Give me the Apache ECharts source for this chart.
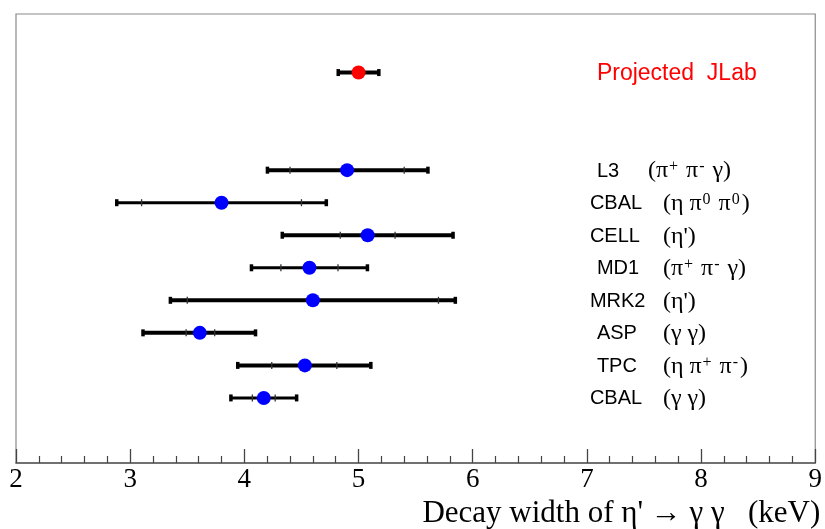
<!DOCTYPE html>
<html>
<head>
<meta charset="utf-8">
<script src="https://cdn.jsdelivr.net/npm/echarts@6/dist/echarts.min.js"></script>
<style>
html,body{margin:0;padding:0;background:#fff;}
#chart{width:825px;height:529px;}
</style>
</head>
<body>
<div id="chart"></div>
<script>
// ---- data ----
var experiments = ['Projected  JLab', 'L3', 'CBAL', 'CELL', 'MD1', 'MRK2', 'ASP', 'TPC', 'CBAL'];
var channels = ['', '(π{+} π{-} γ)', '(η π{0} π{0})', "(η')", '(π{+} π{-} γ)', "(η')", '(γ γ)', '(η π{+} π{-})', '(γ γ)'];
var rowPos = [11, 8, 7, 6, 5, 4, 3, 2, 1];
var widths = [5.00, 4.90, 3.80, 5.08, 4.57, 4.60, 3.61, 4.53, 4.17];
var totalLow = [4.82, 4.20, 2.88, 4.33, 4.06, 3.35, 3.11, 3.94, 3.88];
var totalHigh = [5.18, 5.61, 4.72, 5.83, 5.08, 5.85, 4.10, 5.11, 4.46];
var statLow = [null, 4.40, 3.10, 4.84, 4.32, 3.50, 3.49, 4.24, 4.07];
var statHigh = [null, 5.40, 4.50, 5.32, 4.82, 5.70, 3.74, 4.81, 4.27];
var xTicks = [2, 3, 4, 5, 6, 7, 8, 9];

// ---- styles (not data) ----
var thinRows = {2: true, 4: true, 8: true};
var indentRows = {0: true, 1: true, 4: true, 6: true, 7: true};
var labelAnchorX = 7.0;

var errData = rowPos.map(function (r, i) {
  return [r, totalLow[i], totalHigh[i], statLow[i], statHigh[i], i];
});
var pointData = rowPos.map(function (r, i) {
  return {value: [widths[i], r], itemStyle: {color: i === 0 ? '#ff0000' : '#0000ff', opacity: 1}};
});
var labelData = rowPos.map(function (r, i) { return [labelAnchorX, r, i]; });

function toRich(s) {
  // convert {x} markers into superscript rich tokens
  return '{f|' + s.replace(/\{([^}]*)\}/g, function (m, g) { return '}{sup|' + g + '}{f|'; }) + '}';
}

var chart = echarts.init(document.getElementById('chart'), null, {renderer: 'canvas'});
chart.setOption({
  animation: false,
  backgroundColor: '#ffffff',
  grid: {left: 16, right: 5, top: 14, bottom: 66, show: true, borderColor: '#8a8a8a', borderWidth: 1.2, backgroundColor: 'transparent'},
  xAxis: {
    type: 'value', min: xTicks[0], max: xTicks[xTicks.length - 1], interval: 1,
    axisLine: {show: true, onZero: false, lineStyle: {color: '#555', width: 1.5}},
    axisTick: {show: true, inside: true, length: 14, lineStyle: {color: '#444', width: 1.3}},
    minorTick: {show: true, splitNumber: 5, length: 7, lineStyle: {color: '#444', width: 1.2}},
    splitLine: {show: false},
    axisLabel: {color: '#000', fontFamily: 'Liberation Serif', fontSize: 27, margin: 3},
    name: "Decay width of η' → γ γ   (keV)",
    nameLocation: 'end', nameGap: 5,
    nameTextStyle: {color: '#000', fontFamily: 'Liberation Serif', fontSize: 31, align: 'right', verticalAlign: 'top', padding: [35, 0, 0, 0]}
  },
  yAxis: {type: 'value', min: -1, max: 12.8, show: false, splitLine: {show: false}},
  series: [
    {
      type: 'custom',
      data: errData,
      z: 2,
      renderItem: function (params, api) {
        var r = api.value(0);
        var idx = api.value(5);
        var p1 = api.coord([api.value(1), r]);
        var p2 = api.coord([api.value(2), r]);
        var lw = thinRows[idx] ? 3 : 4;
        var children = [
          {type: 'line', shape: {x1: p1[0], y1: p1[1], x2: p2[0], y2: p2[1]}, style: {stroke: '#000', lineWidth: lw}},
          {type: 'rect', shape: {x: p1[0] - 1.5, y: p1[1] - 3.5, width: 3.5, height: 7}, style: {fill: '#000'}},
          {type: 'rect', shape: {x: p2[0] - 2, y: p2[1] - 3.5, width: 3.5, height: 7}, style: {fill: '#000'}}
        ];
        var sl = api.value(3), sh = api.value(4);
        [sl, sh].forEach(function (v) {
          if (v != null && !isNaN(v)) {
            var p = api.coord([v, r]);
            children.push({type: 'line', shape: {x1: p[0], y1: p[1] - 3.5, x2: p[0], y2: p[1] + 3.5}, style: {stroke: '#333', lineWidth: 1.3}});
          }
        });
        return {type: 'group', children: children};
      }
    },
    {
      type: 'scatter',
      data: pointData,
      symbol: 'circle',
      symbolSize: 14,
      itemStyle: {opacity: 1},
      z: 3
    },
    {
      type: 'custom',
      data: labelData,
      z: 4,
      renderItem: function (params, api) {
        var i = api.value(2);
        var p = api.coord([api.value(0), api.value(1)]);
        var x0 = p[0] + 3 + (indentRows[i] ? 7 : 0);
        var fx = p[0] + (i === 1 ? 61 : 76);
        var kids = [{
          type: 'text',
          style: {
            x: x0, y: p[1] + 1, text: experiments[i], verticalAlign: 'middle', align: 'left',
            fill: i === 0 ? '#ff0000' : '#000', fontFamily: 'Liberation Sans', fontSize: i === 0 ? 23 : 20
          }
        }];
        if (channels[i]) {
          kids.push({
            type: 'text',
            style: {
              x: fx, y: p[1] + 1, text: toRich(channels[i]), verticalAlign: 'middle', align: 'left',
              rich: {
                f: {fontFamily: 'Liberation Serif', fontSize: 24, fill: '#000', color: '#000'},
                sup: {fontFamily: 'Liberation Serif', fontSize: 16, verticalAlign: 'top', fill: '#000', color: '#000', padding: [0, 2, 0, 1]}
              }
            }
          });
        }
        return {type: 'group', children: kids};
      }
    }
  ]
});
</script>
</body>
</html>
